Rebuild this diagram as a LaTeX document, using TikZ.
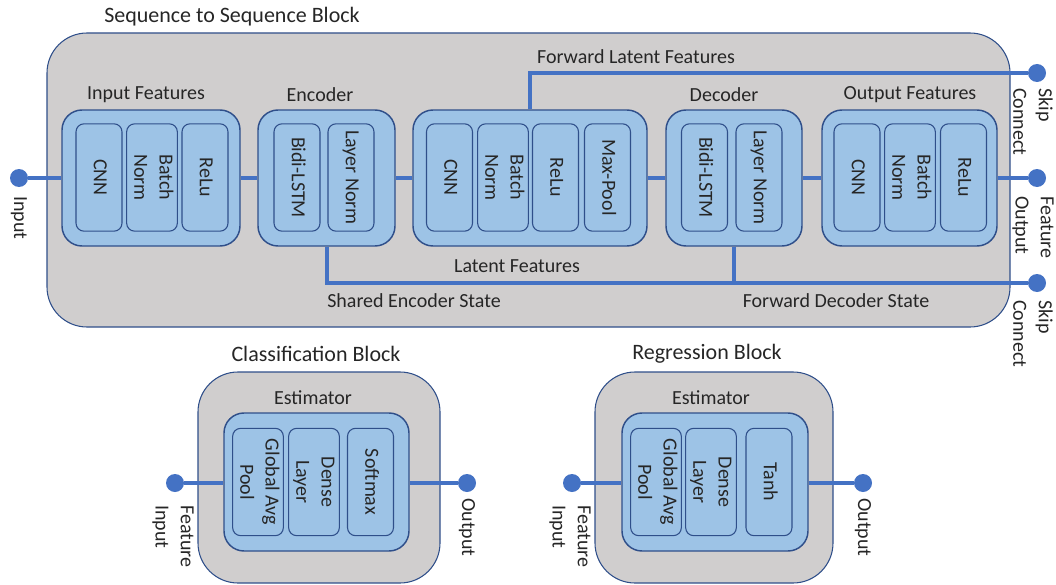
\documentclass[tikz,border=0pt]{standalone}
\usepackage{fontspec}
\setmainfont{Carlito}
\usepackage{graphicx}
\definecolor{gfill}{HTML}{D0CECE}
\definecolor{bfill}{HTML}{9DC3E6}
\definecolor{bdr}{HTML}{2F4F8A}
\definecolor{lnk}{HTML}{4472C4}
\definecolor{txt}{HTML}{262626}
\newcommand{\rtxt}[1]{\rotatebox[origin=c]{-90}{\begin{tabular}{@{}c@{}}#1\end{tabular}}}
\tikzset{
  lbl/.style={font=\fontsize{15}{19}\selectfont, text=txt, inner sep=0pt},
  ttl/.style={font=\fontsize{16.5}{20}\selectfont, text=txt, inner sep=0pt},
  rlbl/.style={lbl, rotate=-90, align=left, anchor=west},
  outerbox/.style={draw=bdr, line width=0.8pt, fill=gfill, rounded corners=30pt, inner sep=0pt},
  grp/.style={draw=bdr, line width=1.1pt, fill=bfill, rounded corners=15pt, minimum height=102pt, inner sep=0pt},
  cell/.style={draw=bdr, line width=0.8pt, fill=bfill, rounded corners=6pt, minimum width=34.5pt, minimum height=80.5pt, inner sep=0pt, font=\fontsize{15}{19}\selectfont, text=txt},
  dot/.style={circle, fill=lnk, minimum size=13.5pt, inner sep=0pt},
  wire/.style={draw=lnk, line width=3pt},
}
\begin{document}
\begin{tikzpicture}[x=0.75pt,y=-0.75pt]
\useasboundingbox (0,0) rectangle (1056,585);
% ---------- Sequence to Sequence block ----------
\node[ttl] (t1) at (232,17) {Sequence to Sequence Block};
\node[outerbox, minimum width=722.25pt, minimum height=220.5pt] (s2s) at (528.5,180) {};

\node[grp, minimum width=133.5pt] (gin) at (151,178) {};
\node[grp, minimum width=102.75pt] (genc) at (326.5,178) {};
\node[grp, minimum width=175.5pt] (gmid) at (530,178) {};
\node[grp, minimum width=102pt] (gdec) at (734,178) {};
\node[grp, minimum width=131.25pt] (gout) at (909.5,178) {};

\node[cell] (c1) at (99,177.5) {\rtxt{CNN}};
\node[cell] (c2) at (152,177.5) {\rtxt{Batch\\Norm}};
\node[cell] (c3) at (205,177.5) {\rtxt{ReLu}};
\node[cell] (e1) at (297,177.5) {\rtxt{Bidi-LSTM}};
\node[cell] (e2) at (351,177.5) {\rtxt{Layer Norm}};
\node[cell] (m1) at (449.5,177.5) {\rtxt{CNN}};
\node[cell] (m2) at (503,177.5) {\rtxt{Batch\\Norm}};
\node[cell] (m3) at (555.5,177.5) {\rtxt{ReLu}};
\node[cell] (m4) at (607.5,177.5) {\rtxt{Max-Pool}};
\node[cell] (d1) at (704.5,177.5) {\rtxt{Bidi-LSTM}};
\node[cell] (d2) at (759,177.5) {\rtxt{Layer Norm}};
\node[cell] (o1) at (857,177.5) {\rtxt{CNN}};
\node[cell] (o2) at (910,177.5) {\rtxt{Batch\\Norm}};
\node[cell] (o3) at (963.5,177.5) {\rtxt{ReLu}};

\node[lbl] (l1) at (146,95) {Input Features};
\node[lbl] (l2) at (320,95) {Encoder};
\node[lbl] (l3) at (724,95) {Decoder};
\node[lbl] (l4) at (910,95) {Output Features};
\node[lbl] (l5) at (636,57) {Forward Latent Features};
\node[lbl] (l6) at (517,266) {Latent Features};
\node[lbl] (l7) at (414,301) {Shared Encoder State};
\node[lbl] (l8) at (836,301) {Forward Decoder State};

\node[dot] (din) at (19,178) {};
\node[dot] (dsk1) at (1037,73) {};
\node[dot] (dout) at (1037,178) {};
\node[dot] (dsk2) at (1037,283) {};

\node[rlbl] (lin) at (19,196) {Input};
\node[rlbl] (lsk1) at (1033,88) {Skip\\Connect};
\node[rlbl] (lfo) at (1033,196) {Feature\\Output};
\node[rlbl] (lsk2) at (1033,300) {Skip\\Connect};

\path[wire] (din) -- (gin.west);
\path[wire] (gin.east) -- (genc.west);
\path[wire] (genc.east) -- (gmid.west);
\path[wire] (gmid.east) -- (gdec.west);
\path[wire] (gdec.east) -- (gout.west);
\path[wire] (gout.east) -- (dout);
\path[wire] (gmid.north) |- (dsk1);
\path[wire] (genc.south) |- (dsk2);
\path[wire] (gdec.south) -- (gdec.south |- dsk2);

% ---------- Classification block ----------
\node[ttl] (t2) at (316,354) {Classification Block};
\node[outerbox, minimum width=181.5pt, minimum height=158.25pt] (cls) at (319,477.5) {};
\node[lbl] (ce) at (313,398) {Estimator};
\node[grp, minimum width=138.75pt, minimum height=103.5pt] (cgrp) at (316.5,482) {};
\node[cell] (k1) at (258,482) {\rtxt{Global Avg\\Pool}};
\node[cell] (k2) at (314,482) {\rtxt{Dense\\Layer}};
\node[cell] (k3) at (370.5,482) {\rtxt{Softmax}};
\node[dot] (cin) at (175,483) {};
\node[dot] (cout) at (467,483) {};
\node[rlbl] (lcin) at (173,505) {Feature\\Input};
\node[rlbl] (lcout) at (467,498) {Output};
\path[wire] (cin) -- (cgrp.west |- cin);
\path[wire] (cgrp.east |- cout) -- (cout);

% ---------- Regression block ----------
\node[ttl] (t3) at (707,354) {Regression Block};
\node[outerbox, minimum width=178.5pt, minimum height=158.25pt] (reg) at (714,477.5) {};
\node[lbl] (re) at (711,398) {Estimator};
\node[grp, minimum width=139.5pt, minimum height=103.5pt] (rgrp) at (715,482) {};
\node[cell] (r1) at (656,482) {\rtxt{Global Avg\\Pool}};
\node[cell] (r2) at (711,482) {\rtxt{Dense\\Layer}};
\node[cell] (r3) at (769,482) {\rtxt{Tanh}};
\node[dot] (rin) at (572,483) {};
\node[dot] (rout) at (863,483) {};
\node[rlbl] (lrin) at (570,505) {Feature\\Input};
\node[rlbl] (lrout) at (863,498) {Output};
\path[wire] (rin) -- (rgrp.west |- rin);
\path[wire] (rgrp.east |- rout) -- (rout);
\end{tikzpicture}
\end{document}
